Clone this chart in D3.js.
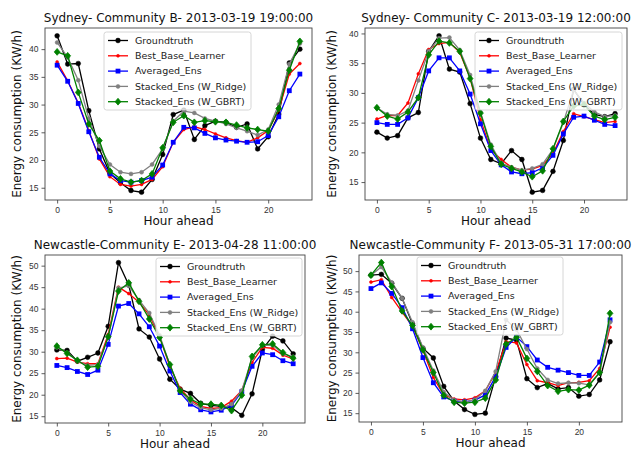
<!DOCTYPE html>
<html>
<head>
<meta charset="utf-8">
<script src="https://cdnjs.cloudflare.com/ajax/libs/d3/7.8.5/d3.min.js"></script>
<style>
  body { margin: 0; background: #fff; }
  svg { font-family: "DejaVu Sans", sans-serif; }
  .tick text { fill: #333; }
</style>
</head>
<body>
<script>
// hours on the x axis
const hours = d3.range(0, 24);
const xTicks = [0, 5, 10, 15, 20];

const seriesNames = ["Groundtruth", "Best_Base_Learner", "Averaged_Ens", "Stacked_Ens (W_Ridge)", "Stacked_Ens (W_GBRT)"];

// Sydney - Community B
const sydB_truth = [42.4, 37.3, 37.4, 28.9, 22.0, 17.6, 15.9, 14.5, 14.2, 16.5, 21.0, 28.2, 29.0, 23.7, 26.2, 27.0, 26.8, 25.9, 26.5, 22.0, 24.2, 28.3, 37.5, 40.0];
const sydB_best = [37.7, 34.3, 30.3, 25.3, 20.2, 17.0, 15.6, 15.3, 15.6, 16.5, 18.8, 23.2, 25.5, 26.0, 25.5, 24.7, 24.0, 23.5, 23.2, 24.0, 25.3, 29.0, 35.5, 37.4];
const sydB_avg = [37.1, 34.2, 30.2, 25.1, 20.5, 17.5, 16.3, 16.0, 16.3, 16.9, 19.1, 23.2, 25.9, 25.8, 24.8, 24.0, 23.6, 23.4, 23.2, 23.3, 24.4, 27.8, 32.5, 35.5];
const sydB_ridge = [41.2, 38.5, 34.4, 27.5, 22.5, 19.2, 17.8, 17.5, 17.8, 19.2, 22.0, 27.0, 28.8, 28.5, 27.5, 27.0, 26.5, 25.8, 25.2, 24.5, 25.5, 30.0, 37.3, 41.0];
const sydB_gbrt = [39.5, 38.8, 32.2, 26.5, 23.5, 18.0, 16.6, 16.0, 16.3, 17.5, 22.2, 26.8, 28.0, 26.8, 27.1, 26.9, 26.8, 26.3, 25.8, 25.5, 25.2, 29.3, 36.2, 41.4];

// Sydney - Community C
const sydC_truth = [23.4, 22.4, 22.8, 25.8, 26.7, 37.0, 39.6, 34.0, 33.5, 28.2, 22.4, 18.8, 18.1, 20.3, 18.8, 13.3, 13.6, 16.8, 22.0, 30.6, 28.0, 26.4, 26.0, 26.5];
const sydC_best = [25.6, 26.2, 26.2, 28.3, 33.2, 37.3, 38.3, 38.5, 36.8, 32.5, 25.5, 20.5, 18.8, 17.5, 17.0, 17.2, 17.8, 19.8, 23.5, 26.5, 26.0, 25.5, 25.0, 25.2];
const sydC_avg = [25.0, 24.7, 24.7, 25.8, 29.2, 33.7, 35.9, 35.9, 33.7, 29.8, 24.8, 20.3, 17.9, 16.7, 16.4, 16.6, 17.4, 19.5, 23.1, 25.9, 26.1, 25.4, 24.7, 24.5];
const sydC_ridge = [27.5, 26.4, 26.2, 27.0, 32.1, 37.0, 39.2, 39.3, 37.2, 33.0, 26.8, 21.3, 18.2, 17.5, 17.0, 17.3, 18.0, 20.5, 25.0, 30.5, 28.3, 26.8, 26.0, 26.2];
const sydC_gbrt = [27.5, 26.1, 25.6, 26.8, 29.2, 36.4, 38.7, 38.4, 37.0, 32.4, 26.6, 21.0, 18.0, 17.3, 16.7, 15.9, 16.9, 20.6, 25.2, 27.8, 28.0, 26.1, 25.5, 25.9];

// Newcastle - Community E
const newE_truth = [30.4, 30.3, 27.8, 28.7, 29.7, 35.9, 50.7, 45.5, 35.3, 33.4, 28.3, 23.6, 21.3, 20.3, 18.0, 17.5, 17.3, 17.0, 15.2, 20.2, 30.5, 33.6, 32.5, 29.5];
const newE_best = [28.4, 28.5, 27.6, 27.2, 27.2, 34.0, 45.0, 43.5, 41.5, 38.5, 33.5, 26.5, 21.5, 18.8, 17.3, 16.8, 17.0, 18.5, 21.0, 27.5, 31.0, 30.8, 29.2, 28.3];
const newE_avg = [26.8, 26.3, 25.4, 24.7, 25.7, 31.7, 40.6, 41.2, 38.8, 35.8, 31.3, 25.5, 20.5, 17.8, 16.5, 16.0, 16.4, 17.5, 20.7, 26.6, 29.7, 29.3, 27.9, 27.2];
const newE_ridge = [31.0, 29.8, 27.8, 26.8, 27.0, 33.3, 44.8, 45.3, 42.0, 39.0, 33.8, 27.0, 21.0, 18.3, 17.0, 16.5, 16.8, 17.8, 21.0, 28.5, 31.5, 31.5, 29.5, 28.8];
const newE_gbrt = [31.3, 29.6, 28.0, 26.4, 26.6, 33.5, 44.1, 46.0, 41.7, 37.6, 33.3, 27.0, 20.9, 19.0, 17.8, 17.8, 17.5, 16.3, 19.9, 28.9, 31.6, 31.8, 29.8, 28.5];

// Newcastle - Community F
const newF_truth = [49.0, 49.2, 47.0, 43.3, 37.0, 31.0, 28.6, 21.6, 18.0, 15.9, 14.7, 15.0, 24.0, 33.5, 33.0, 23.5, 21.3, 22.3, 21.0, 21.3, 19.2, 19.6, 23.2, 32.6];
const newF_best = [47.3, 47.9, 43.5, 39.9, 36.4, 30.5, 23.8, 19.5, 18.5, 18.3, 18.8, 20.5, 25.0, 32.6, 32.3, 27.0, 23.0, 22.5, 21.8, 22.5, 22.6, 23.0, 26.0, 36.2];
const newF_avg = [45.7, 47.1, 44.5, 41.0, 35.8, 28.7, 22.5, 19.0, 18.0, 17.8, 18.2, 19.5, 24.0, 31.2, 33.8, 31.4, 28.1, 26.3, 25.6, 25.0, 24.3, 24.3, 27.6, 38.0];
const newF_ridge = [49.0, 51.0, 47.2, 43.3, 37.4, 31.2, 25.5, 20.2, 18.2, 17.8, 18.3, 20.5, 25.3, 38.0, 35.6, 30.8, 26.0, 23.2, 22.3, 22.5, 22.4, 22.0, 25.1, 37.4];
const newF_gbrt = [49.0, 52.1, 46.2, 40.2, 36.6, 30.6, 25.0, 19.4, 17.7, 17.5, 17.7, 18.7, 23.2, 32.0, 33.7, 28.5, 25.3, 21.8, 20.4, 20.8, 20.7, 21.9, 25.0, 39.6];

const titles = [
  "Sydney- Community B- 2013-03-19 19:00:00",
  "Sydney- Community C- 2013-03-19 12:00:00",
  "Newcastle-Community E- 2013-04-28 11:00:00",
  "Newcastle-Community F- 2013-05-31 17:00:00"
];

const W = 641, H = 451;

// styles of each series: colour, marker
const styles = [
  {color: "#000000", marker: "circle", r: 2.4},
  {color: "#ff0000", marker: "circle", r: 1.5},
  {color: "#0000ff", marker: "square", r: 2.4},
  {color: "#808080", marker: "circle", r: 2.0},
  {color: "#008000", marker: "diamond", r: 3.4}
];

// panel boxes and legend placement
const panels = [
  {data: [sydB_truth, sydB_best, sydB_avg, sydB_ridge, sydB_gbrt], left: 45, right: 312, top: 28, bottom: 200, ylab: 21, legend: {x: 104, y: 32, w: 147}},
  {data: [sydC_truth, sydC_best, sydC_avg, sydC_ridge, sydC_gbrt], left: 365, right: 627, top: 28, bottom: 200, ylab: 336, legend: {x: 475, y: 32, w: 147}},
  {data: [newE_truth, newE_best, newE_avg, newE_ridge, newE_gbrt], left: 45, right: 305, top: 255, bottom: 423, ylab: 21, legend: {x: 156, y: 258, w: 146}},
  {data: [newF_truth, newF_best, newF_avg, newF_ridge, newF_gbrt], left: 359, right: 622, top: 255, bottom: 422, ylab: 336, legend: {x: 417, y: 257, w: 146}}
];

const svg = d3.select("body").append("svg")
  .attr("width", W)
  .attr("height", H);

function drawMarker(sel, st) {
  if (st.marker == "circle") {
    sel.append("circle").attr("r", st.r).attr("fill", st.color).attr("stroke", st.color).attr("stroke-width", 0.5);
  } else if (st.marker == "square") {
    sel.append("rect").attr("x", -st.r).attr("y", -st.r).attr("width", st.r * 2).attr("height", st.r * 2)
      .attr("fill", st.color);
  } else {
    let r = st.r;
    sel.append("path").attr("d", "M0," + (-r) + "L" + (r * 0.85) + ",0L0," + r + "L" + (-r * 0.85) + ",0Z")
      .attr("fill", st.color).attr("stroke", st.color).attr("stroke-width", 0.8);
  }
}

panels.forEach(function(p, pi) {
  let all = [].concat(...p.data);
  let lo = d3.min(all), hi = d3.max(all), pad = (hi - lo) * 0.05;

  let x = d3.scaleLinear().domain([-1.15, 24.15]).range([p.left, p.right]);
  let y = d3.scaleLinear().domain([lo - pad, hi + pad]).range([p.bottom, p.top]);

  let g = svg.append("g");

  // axes
  g.append("g")
    .attr("transform", "translate(0," + p.bottom + ")")
    .call(d3.axisBottom(x).tickValues(xTicks).tickSize(3.5).tickPadding(3))
    .call(a => a.select(".domain").remove())
    .call(a => a.selectAll("text").attr("font-size", 8.5))
    .call(a => a.selectAll("line").attr("stroke", "#333").attr("stroke-width", 0.8));

  g.append("g")
    .attr("transform", "translate(" + p.left + ",0)")
    .call(d3.axisLeft(y).ticks(6).tickSize(3.5).tickPadding(3))
    .call(a => a.select(".domain").remove())
    .call(a => a.selectAll("text").attr("font-size", 8.5))
    .call(a => a.selectAll("line").attr("stroke", "#333").attr("stroke-width", 0.8));

  // series lines and markers
  let line = d3.line().x((d, i) => x(hours[i])).y(d => y(d));
  p.data.forEach(function(vals, si) {
    let st = styles[si];
    g.append("path")
      .datum(vals)
      .attr("d", line)
      .attr("fill", "none")
      .attr("stroke", st.color)
      .attr("stroke-width", 1.3);
    let m = g.selectAll(".m" + si)
      .data(vals)
      .enter().append("g")
      .attr("class", "m" + si)
      .attr("transform", (d, i) => "translate(" + x(hours[i]) + "," + y(d) + ")");
    drawMarker(m, st);
  });

  // frame
  g.append("rect")
    .attr("x", p.left).attr("y", p.top)
    .attr("width", p.right - p.left).attr("height", p.bottom - p.top)
    .attr("fill", "none").attr("stroke", "#444").attr("stroke-width", 0.9);

  // title and labels
  g.append("text")
    .attr("x", (p.left + p.right) / 2).attr("y", p.top - 6)
    .attr("text-anchor", "middle").attr("font-size", 12).attr("fill", "#111")
    .text(titles[pi]);

  g.append("text")
    .attr("x", (p.left + p.right) / 2).attr("y", p.bottom + 25)
    .attr("text-anchor", "middle").attr("font-size", 12).attr("fill", "#111")
    .text("Hour ahead");

  g.append("text")
    .attr("transform", "translate(" + p.ylab + "," + (p.top + p.bottom) / 2 + ") rotate(-90)")
    .attr("text-anchor", "middle").attr("font-size", 12).attr("fill", "#111")
    .text("Energy consumption (KW/h)");

  // legend
  let lg = g.append("g").attr("transform", "translate(" + p.legend.x + "," + p.legend.y + ")");
  lg.append("rect")
    .attr("width", p.legend.w).attr("height", 78)
    .attr("rx", 2.5)
    .attr("fill", "#fff").attr("fill-opacity", 0.8)
    .attr("stroke", "#ccc").attr("stroke-width", 0.8);
  seriesNames.forEach(function(name, si) {
    let st = styles[si];
    let row = lg.append("g").attr("transform", "translate(0," + (8.5 + si * 15.3) + ")");
    row.append("line").attr("x1", 4).attr("x2", 24).attr("stroke", st.color).attr("stroke-width", 1.3);
    let mk = row.append("g").attr("transform", "translate(14,0)");
    drawMarker(mk, st);
    row.append("text").attr("x", 31).attr("dy", "0.35em")
      .attr("font-size", 9.5).attr("fill", "#222")
      .text(name);
  });
});
</script>
</body>
</html>
